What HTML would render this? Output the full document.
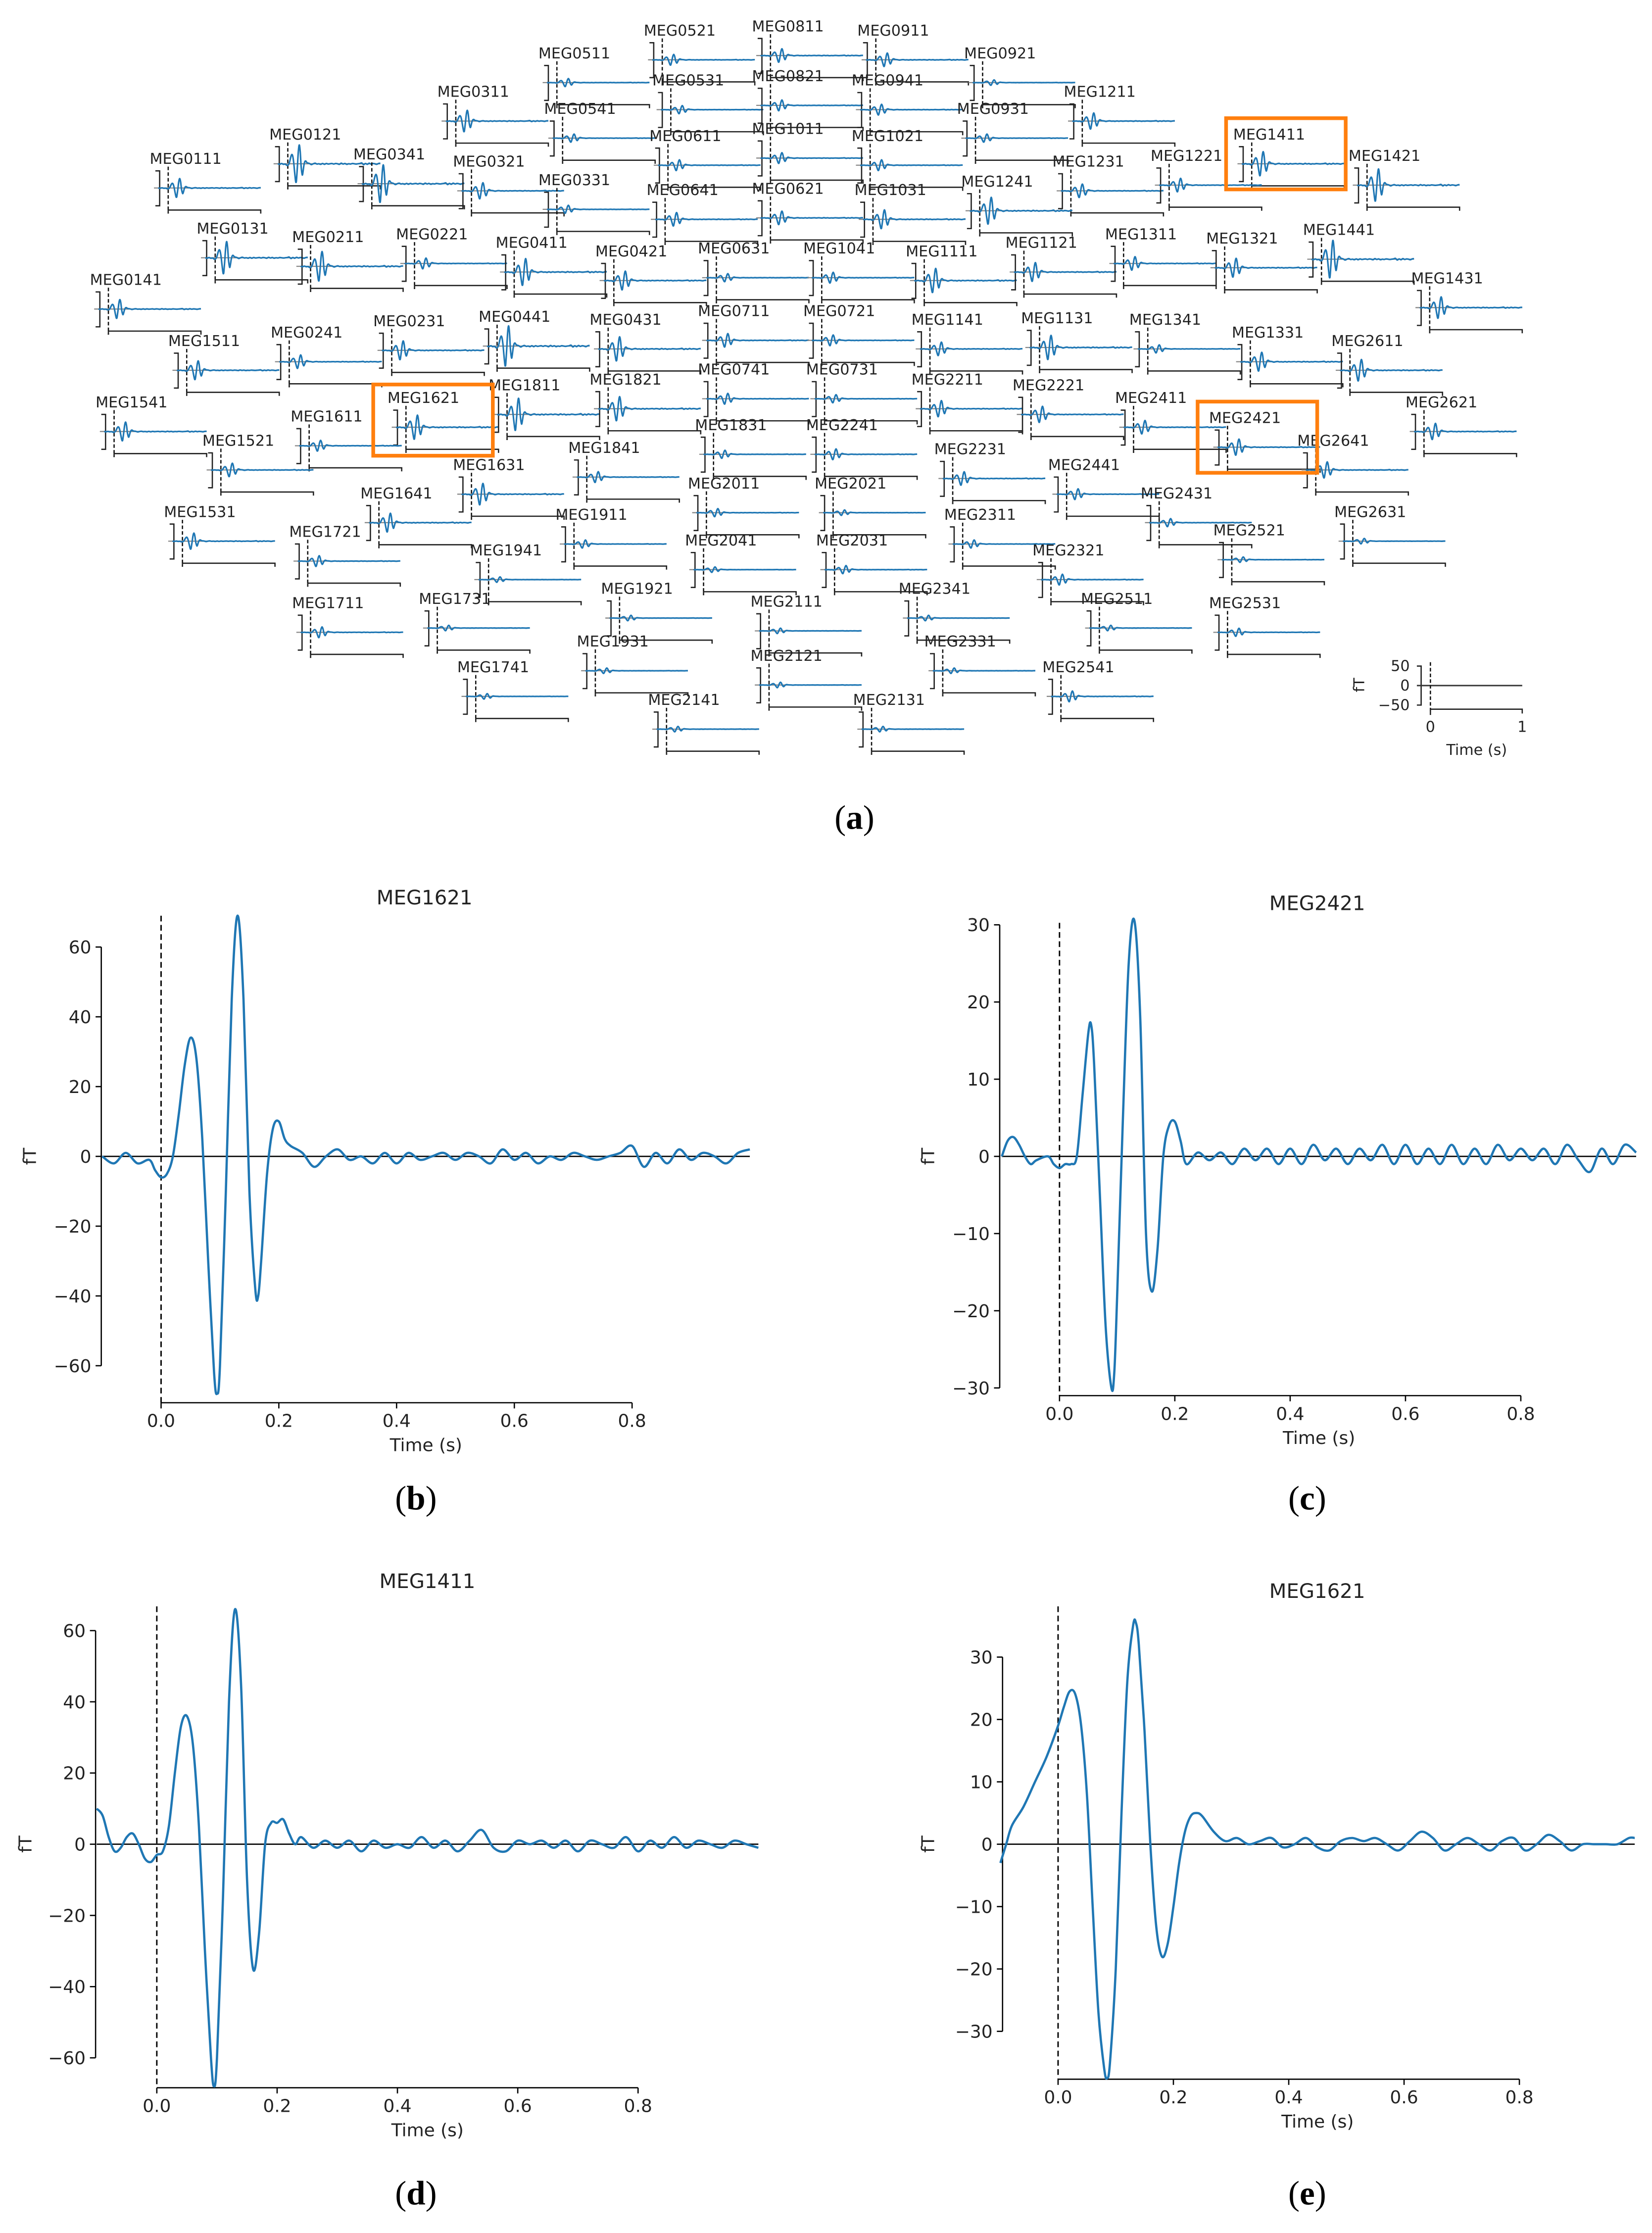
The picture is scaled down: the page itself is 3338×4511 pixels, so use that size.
<!DOCTYPE html>
<html><head><meta charset="utf-8"><style>
html,body{margin:0;padding:0;background:#fff}
svg{display:block}
text{font-family:"DejaVu Sans","Liberation Sans",sans-serif;fill:#222}
.cap{font-family:"Liberation Serif",serif;font-size:24px;fill:#000}
</style></head><body>
<svg id="fig" width="3338" height="4511" viewBox="0 0 1160 1568" xmlns="http://www.w3.org/2000/svg">
<g id="topo"></g>
<g id="pb"></g>
<g id="pc"></g>
<g id="pd"></g>
<g id="pe"></g>
<text class="cap" x="600" y="582" text-anchor="middle">(<tspan font-weight="bold">a</tspan>)</text>
<text class="cap" x="292" y="1060" text-anchor="middle">(<tspan font-weight="bold">b</tspan>)</text>
<text class="cap" x="918" y="1060" text-anchor="middle">(<tspan font-weight="bold">c</tspan>)</text>
<text class="cap" x="292" y="1548" text-anchor="middle">(<tspan font-weight="bold">d</tspan>)</text>
<text class="cap" x="918" y="1548" text-anchor="middle">(<tspan font-weight="bold">e</tspan>)</text>
</svg>
<script>
// ---- data ----
const sensorNames = ["MEG0511","MEG0521","MEG0811","MEG0911","MEG0921","MEG0311","MEG0531","MEG0821","MEG0941","MEG1211","MEG0541","MEG0931","MEG1411","MEG0121","MEG0611","MEG1011","MEG1021","MEG0111","MEG0341","MEG0321","MEG1231","MEG1221","MEG1421","MEG0331","MEG0641","MEG0621","MEG1031","MEG1241","MEG0131","MEG0211","MEG0221","MEG0411","MEG0421","MEG0631","MEG1041","MEG1111","MEG1121","MEG1311","MEG1321","MEG1441","MEG0141","MEG1431","MEG0441","MEG0431","MEG0711","MEG0721","MEG1141","MEG1131","MEG1341","MEG0231","MEG1511","MEG0241","MEG1331","MEG2611","MEG0741","MEG0731","MEG2211","MEG2221","MEG1541","MEG1621","MEG1811","MEG1821","MEG2411","MEG2621","MEG1611","MEG2421","MEG1831","MEG2241","MEG1521","MEG2641","MEG1841","MEG2231","MEG1631","MEG2441","MEG2011","MEG2021","MEG1641","MEG2431","MEG1531","MEG2631","MEG1911","MEG2311","MEG1721","MEG2521","MEG2041","MEG2031","MEG1941","MEG2321","MEG1921","MEG2341","MEG1711","MEG1731","MEG2511","MEG2531","MEG2111","MEG1931","MEG2331","MEG2121","MEG1741","MEG2541","MEG2141","MEG2131"];
const sensorX = [378,452,528,602,677,307,458,528,598,747,382,672,866,189,456,528,598,105,248,318,739,808,947,378,454,528,600,675,138,205,278,348,418,490,564,636,706,776,847,915,63,991,336,414,490,564,640,717,793,262,118,190,865,935,490,566,640,711,67,272,343,414,783,987,204,849,488,566,142,911,399,656,318,736,483,572,253,801,115,937,390,663,203,852,481,573,330,725,422,631,205,294,759,849,527,405,649,527,321,732,455,599];
const sensorY = [41,25,22,25,41,68,60,57,60,68,80,80,98,98,99,94,99,115,112,117,117,113,113,130,137,136,137,131,164,170,168,174,180,178,178,180,174,168,171,165,200,199,226,228,222,222,228,227,228,229,243,237,237,243,263,263,270,274,286,283,274,270,283,286,296,297,302,302,313,313,318,319,330,330,343,343,350,350,363,363,365,365,377,376,383,383,390,390,417,417,427,424,424,427,426,454,454,464,472,472,495,495];
const sensorAmp = [0.15,0.2,0.25,0.25,0.1,0.4,0.15,0.2,0.2,0.3,0.15,0.15,0.45,0.7,0.2,0.2,0.2,0.35,0.7,0.3,0.25,0.25,0.6,0.15,0.25,0.25,0.35,0.5,0.6,0.55,0.2,0.5,0.35,0.15,0.2,0.45,0.35,0.25,0.35,0.7,0.35,0.4,0.75,0.45,0.25,0.2,0.25,0.45,0.15,0.35,0.35,0.25,0.35,0.4,0.2,0.15,0.3,0.3,0.35,0.45,0.6,0.45,0.25,0.3,0.2,0.3,0.15,0.2,0.25,0.3,0.2,0.25,0.4,0.2,0.15,0.1,0.35,0.15,0.3,0.1,0.15,0.15,0.2,0.1,0.1,0.15,0.1,0.2,0.1,0.1,0.2,0.1,0.1,0.15,0.1,0.1,0.1,0.1,0.1,0.2,0.1,0.1];

const bT = [-0.1,-0.08,-0.06,-0.04,-0.02,-0.01,0,0.01,0.02,0.03,0.04,0.05,0.06,0.07,0.08,0.09,0.095,0.1,0.11,0.12,0.13,0.14,0.15,0.16,0.165,0.17,0.18,0.19,0.2,0.21,0.22,0.24,0.26,0.28,0.3,0.32,0.34,0.36,0.38,0.4,0.42,0.44,0.46,0.48,0.5,0.52,0.54,0.56,0.58,0.6,0.62,0.64,0.66,0.68,0.7,0.72,0.74,0.76,0.78,0.8,0.82,0.84,0.86,0.88,0.9,0.92,0.94,0.96,0.98,1.0];
const bV = [0,-2,1,-2,-1,-4,-6,-5,0,12,26,34,28,5,-30,-62,-68,-60,-10,45,69,45,-10,-38,-40,-30,-5,8,10,5,3,1,-3,0,2,-1,0,-2,1,-2,1,-1,0,1,-1,1,0,-2,2,-1,1,-2,0,-1,1,0,-1,0,1,3,-3,1,-2,2,-1,1,0,-2,1,2];
const cT = [-0.1,-0.09,-0.08,-0.07,-0.06,-0.05,-0.04,-0.02,-0.01,0,0.01,0.02,0.03,0.04,0.05,0.055,0.06,0.07,0.08,0.09,0.095,0.1,0.11,0.12,0.13,0.14,0.15,0.16,0.17,0.18,0.19,0.2,0.21,0.22,0.24,0.26,0.28,0.3,0.32,0.34,0.36,0.38,0.4,0.42,0.44,0.46,0.48,0.5,0.52,0.54,0.56,0.58,0.6,0.62,0.64,0.66,0.68,0.7,0.72,0.74,0.76,0.78,0.8,0.82,0.84,0.86,0.88,0.9,0.92,0.94,0.96,0.98,1.0];
const cV = [0,2,2.5,1.5,0,-1,-0.5,0,-1,-1.5,-1,-1,0,8,16,17,12,-5,-22,-30,-28,-18,5,25,30.5,18,-10,-17.5,-12,0,4,4.5,2,-1,0.5,-0.5,0.5,-1,1,-0.5,1,-1,1,-1,1.5,-0.5,1,-1,1,-0.5,1.5,-1,1.5,-1,1,-1,1.5,-1,1,-1,1.5,-0.5,1,-0.5,1,-1,1.5,-0.5,-2,1,-1,1.5,0.5];
const dT = [-0.1,-0.09,-0.08,-0.07,-0.06,-0.05,-0.04,-0.03,-0.02,-0.01,0,0.01,0.02,0.03,0.04,0.05,0.06,0.07,0.08,0.09,0.095,0.1,0.11,0.12,0.13,0.14,0.15,0.16,0.17,0.18,0.19,0.2,0.21,0.22,0.23,0.24,0.26,0.28,0.3,0.32,0.34,0.36,0.38,0.4,0.42,0.44,0.46,0.48,0.5,0.52,0.54,0.56,0.58,0.6,0.62,0.64,0.66,0.68,0.7,0.72,0.74,0.76,0.78,0.8,0.82,0.84,0.86,0.88,0.9,0.92,0.94,0.96,0.98,1.0];
const dV = [10,8,2,-2,-1,2,3,0,-4,-5,-3,-2,5,20,33,36,28,5,-30,-60,-68,-60,-15,40,66,45,-10,-35,-25,0,6,6,7,3,0,2,-1,1,-1,1,-2,1,-1,0,-1,2,-1,1,-2,1,4,-1,-2,1,0,1,-1,1,-2,1,0,-1,2,-2,1,-1,2,-1,1,0,-1,1,0,-1];
const eT = [-0.1,-0.09,-0.08,-0.06,-0.04,-0.02,0,0.01,0.02,0.03,0.04,0.05,0.06,0.07,0.08,0.085,0.09,0.1,0.11,0.12,0.13,0.135,0.14,0.15,0.16,0.17,0.18,0.19,0.2,0.21,0.22,0.23,0.24,0.25,0.27,0.29,0.31,0.33,0.35,0.37,0.39,0.41,0.43,0.45,0.47,0.49,0.51,0.53,0.55,0.57,0.59,0.61,0.63,0.65,0.67,0.69,0.71,0.73,0.75,0.77,0.79,0.81,0.83,0.85,0.87,0.89,0.91,0.93,0.95,0.97,0.99,1.0];
const eV = [-3,0,3,6,10,14,19,22,24.5,24,19,8,-10,-27,-36,-37.5,-35,-20,5,26,35,35.5,32,18,0,-13,-18,-16,-10,-3,2,4.5,5,4.5,2,0.5,1,0,0.5,1,-0.5,0,1,-0.5,-1,0.5,1,0.5,1,0,-1,0.5,2,1,-1,0,1,0,-1,0.5,1,-1,0,1.5,0.5,-1,0,0,0,0,1,1];

const bYTicks=[60,40,20,0,-20,-40,-60], cYTicks=[30,20,10,0,-10,-20,-30], dYTicks=[60,40,20,0,-20,-40,-60], eYTicks=[30,20,10,0,-10,-20,-30];
const xTicks=[0.0,0.2,0.4,0.6,0.8];
const scaleTicks=[50,0,-50];

// ---- helpers ----
const NS="http://www.w3.org/2000/svg";
function mk(parent,tag,attrs,txt){const e=document.createElementNS(NS,tag);for(const k in attrs)e.setAttribute(k,attrs[k]);if(txt!==undefined)e.textContent=txt;parent.appendChild(e);return e;}
function smoothPath(pts){let d="M"+pts[0][0].toFixed(2)+","+pts[0][1].toFixed(2);
 for(let i=0;i<pts.length-1;i++){const p0=pts[Math.max(0,i-1)],p1=pts[i],p2=pts[i+1],p3=pts[Math.min(pts.length-1,i+2)];
  const c1=[p1[0]+(p2[0]-p0[0])/6,p1[1]+(p2[1]-p0[1])/6],c2=[p2[0]-(p3[0]-p1[0])/6,p2[1]-(p3[1]-p1[1])/6];
  d+="C"+c1[0].toFixed(2)+","+c1[1].toFixed(2)+" "+c2[0].toFixed(2)+","+c2[1].toFixed(2)+" "+p2[0].toFixed(2)+","+p2[1].toFixed(2);}
 return d;}

// ---- topomap ----
const topo=document.getElementById('topo');
const mtx=t=>6+72*(t+0.1)/1.1; // local x
for(let i=0;i<sensorNames.length;i++){
 const lx=sensorX[i], ly=sensorY[i], a=sensorAmp[i];
 const g=mk(topo,'g',{});
 
 
 mk(g,'text',{x:lx,y:ly,'font-size':10.5},sensorNames[i]);
 mk(g,'line',{x1:lx+3,x2:lx+78,y1:ly+17,y2:ly+17,stroke:'#888','stroke-width':0.8});
 mk(g,'path',{d:'M'+(lx+4)+','+(ly+5)+'H'+(lx+7)+'V'+(ly+29.5)+'H'+(lx+4),fill:'none',stroke:'#222','stroke-width':0.9});
 mk(g,'line',{x1:lx+13,x2:lx+13,y1:ly+2,y2:ly+35,stroke:'#111','stroke-width':0.9,'stroke-dasharray':'2.5,1.5'});
 mk(g,'path',{d:'M'+(lx+13)+','+(ly+35)+'V'+(ly+32.5)+'M'+(lx+13)+','+(ly+32.5)+'H'+(lx+78)+'V'+(ly+35),fill:'none',stroke:'#222','stroke-width':0.9});
 const pts=bT.map((t,k)=>[lx+mtx(t), ly+17-bV[k]*0.274*a]);
 const p=mk(g,'path',{d:smoothPath(pts),fill:'none',stroke:'#1f77b4','stroke-width':1.1});
 
 
}
// orange highlight boxes
[[861,83],[262,270],[841,282]].forEach(b=>{const r=mk(topo,'rect',{x:b[0],y:b[1],width:84,height:50,fill:'none',stroke:'#ff7f0e','stroke-width':2.6});
 
 });
// scale bar
{const sg=mk(topo,'g',{});
 
 
 const sy=v=>481.4-v*(13.7/50);
 mk(sg,'path',{d:'M995,'+sy(50)+'H998V'+sy(-50)+'H995',fill:'none',stroke:'#222','stroke-width':0.9});
 scaleTicks.forEach(v=>mk(sg,'text',{x:990,y:sy(v)+3.5,'font-size':10.5,'text-anchor':'end'},v<0?'\u2212'+(-v):String(v)));
 mk(sg,'text',{x:0,y:0,'font-size':10.5,'text-anchor':'middle',transform:'translate(958,481) rotate(-90)'},'fT');
 mk(sg,'line',{x1:995,x2:1069,y1:481.4,y2:481.4,stroke:'#333','stroke-width':1});
 mk(sg,'line',{x1:1004.5,x2:1004.5,y1:465,y2:502,stroke:'#111','stroke-width':0.9,'stroke-dasharray':'2.5,1.5'});
 mk(sg,'path',{d:'M1004.5,501V498H1069V501',fill:'none',stroke:'#222','stroke-width':0.9});
 mk(sg,'text',{x:1004.5,y:514,'font-size':10.5,'text-anchor':'middle'},'0');
 mk(sg,'text',{x:1069,y:514,'font-size':10.5,'text-anchor':'middle'},'1');
 mk(sg,'text',{x:1037,y:530,'font-size':10.5,'text-anchor':'middle'},'Time (s)');}

// ---- main panels ----
function panel(id,cfg,T,V,yt){
 const g=document.getElementById(id);
 const X=t=>cfg.x0+cfg.kx*t, Y=v=>cfg.y0-cfg.ky*v;
 const top=Y(yt[0]), bot=Y(yt[yt.length-1]);
 mk(g,'text',{x:cfg.tx,y:cfg.ty,'font-size':14,'text-anchor':'middle'},cfg.title);
 // y spine
 mk(g,'line',{x1:cfg.sx,x2:cfg.sx,y1:top,y2:bot,stroke:'#000','stroke-width':0.9});
 yt.forEach(v=>{mk(g,'line',{x1:cfg.sx-4,x2:cfg.sx,y1:Y(v),y2:Y(v),stroke:'#000','stroke-width':0.9});
  mk(g,'text',{x:cfg.sx-7,y:Y(v)+4.5,'font-size':12.5,'text-anchor':'end'},v<0?'\u2212'+(-v):String(v));});
 mk(g,'text',{x:0,y:0,'font-size':12.5,'text-anchor':'middle',transform:'translate('+cfg.fx+','+cfg.y0+') rotate(-90)'},'fT');
 // x spine
 mk(g,'line',{x1:X(0),x2:X(0.8),y1:cfg.by,y2:cfg.by,stroke:'#000','stroke-width':0.9});
 xTicks.forEach(t=>{mk(g,'line',{x1:X(t),x2:X(t),y1:cfg.by,y2:cfg.by+4,stroke:'#000','stroke-width':0.9});
  mk(g,'text',{x:X(t),y:cfg.by+17,'font-size':12.5,'text-anchor':'middle'},t.toFixed(1));});
 mk(g,'text',{x:X(0.45),y:cfg.by+34,'font-size':12.5,'text-anchor':'middle'},'Time (s)');
 // zero line & onset
 mk(g,'line',{x1:X(-0.1),x2:X(1.0),y1:Y(0),y2:Y(0),stroke:'#000','stroke-width':0.9});
 mk(g,'line',{x1:X(0),x2:X(0),y1:cfg.dtop,y2:cfg.by,stroke:'#000','stroke-width':1,'stroke-dasharray':'4,2.5'});
 const pts=T.map((t,k)=>[X(t),Y(V[k])]);
 const p=mk(g,'path',{d:smoothPath(pts),fill:'none',stroke:'#1f77b4','stroke-width':1.6});
 
 
}
panel('pb',{x0:113,kx:413.5,y0:812,ky:2.45,sx:71,by:985,dtop:643,tx:298,ty:635,fx:25,title:'MEG1621'},bT,bV,bYTicks);
panel('pc',{x0:744,kx:405,y0:812,ky:5.42,sx:702,by:980,dtop:648,tx:925,ty:639,fx:656,title:'MEG2421'},cT,cV,cYTicks);
panel('pd',{x0:110,kx:422.5,y0:1295,ky:2.5,sx:67,by:1466,dtop:1128,tx:300,ty:1115,fx:22,title:'MEG1411'},dT,dV,dYTicks);
panel('pe',{x0:743,kx:405,y0:1295,ky:4.38,sx:704,by:1460,dtop:1128,tx:925,ty:1122,fx:656,title:'MEG1621'},eT,eV,eYTicks);
</script>
</body></html>
